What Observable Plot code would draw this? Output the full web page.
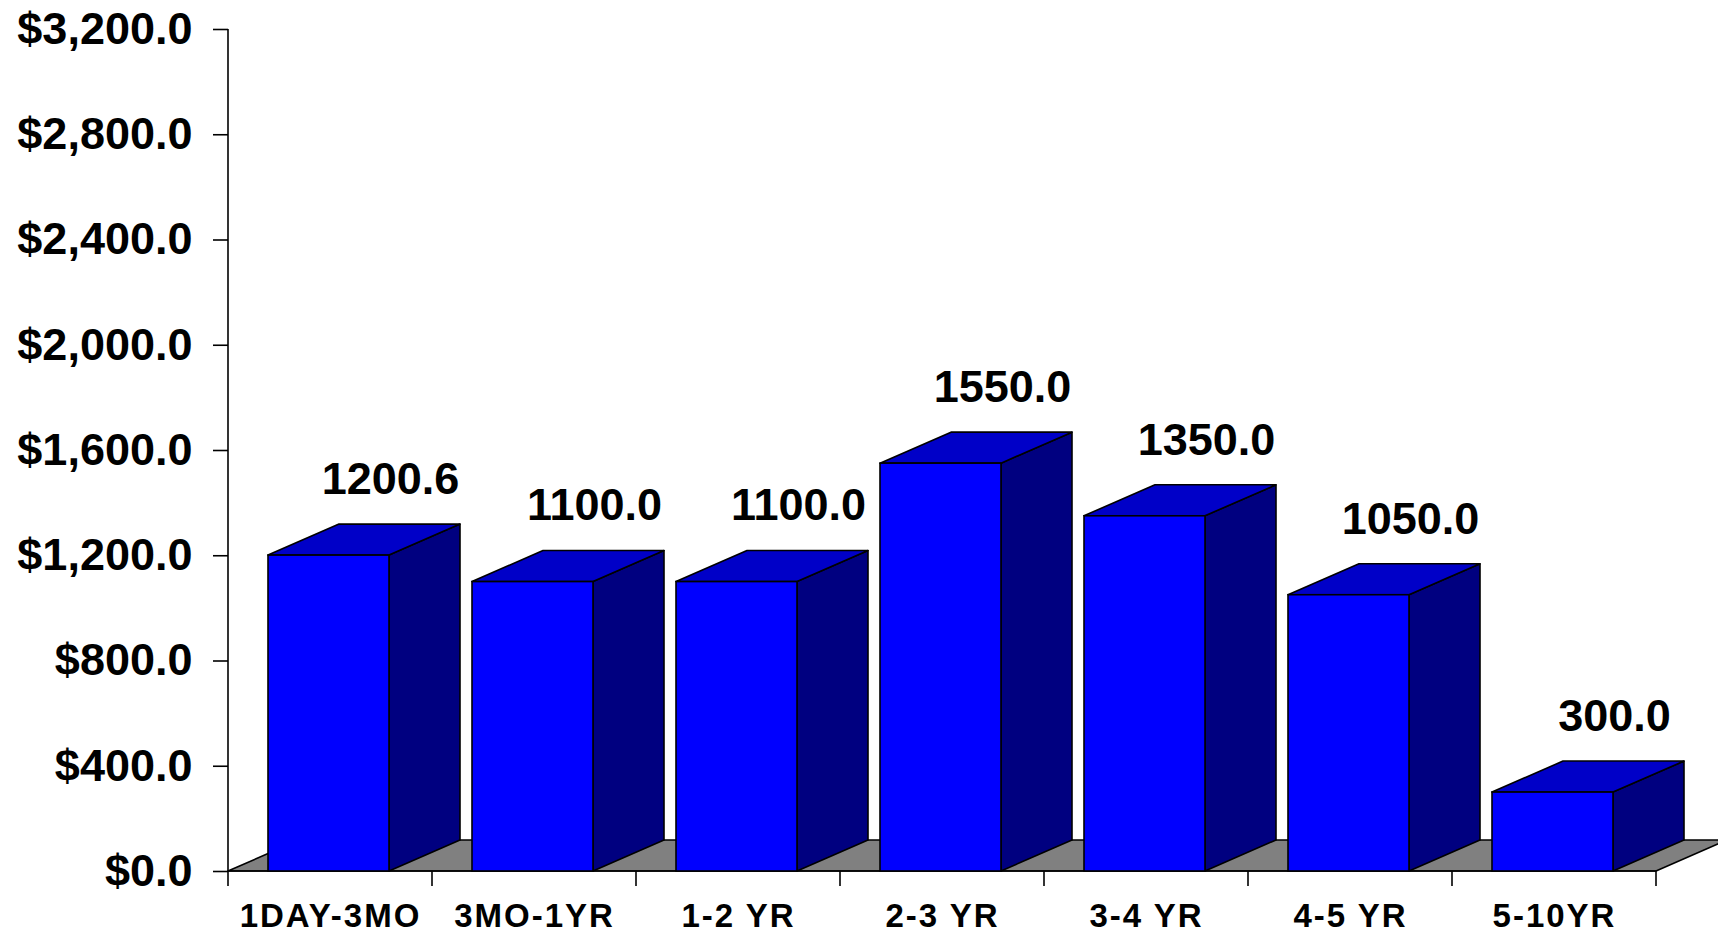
<!DOCTYPE html>
<html><head><meta charset="utf-8">
<script src="https://cdn.jsdelivr.net/npm/d3@7"></script>
<script src="https://cdn.jsdelivr.net/npm/@observablehq/plot@0.6"></script>
<style>
html,body{margin:0;padding:0;background:#fff;overflow:hidden}
svg{display:block}
g[aria-label="x-axis tick label"] text{letter-spacing:2px}
</style></head><body><div id="chart"></div>
<script>
const categories = ["1DAY-3MO","3MO-1YR","1-2 YR","2-3 YR","3-4 YR","4-5 YR","5-10YR"];
const values = [1200.6, 1100.0, 1100.0, 1550.0, 1350.0, 1050.0, 300.0];
const yTicks = [0, 400, 800, 1200, 1600, 2000, 2400, 2800, 3200];
const data = categories.map((c, i) => ({category: c, value: values[i]}));

const DX = 71, DY = -31;           // 3D depth offset (px)
const INSET_L = 40, INSET_R = 43;  // bar inset within band (px)
const FRONT = "#0000FF", TOP = "#0000C8", SIDE = "#000080", FLOOR = "#808080";
const SW = 1.6;

const NS = "http://www.w3.org/2000/svg";
function el(tag, attrs) {
  const e = document.createElementNS(NS, tag);
  for (const k in attrs) e.setAttribute(k, attrs[k]);
  return e;
}
function poly(pts, fill) {
  return el("polygon", {points: pts.map(p => p.join(",")).join(" "), fill, stroke: "black", "stroke-width": SW, "stroke-linejoin": "round"});
}
function bw(x) { return typeof x.bandwidth === "function" ? x.bandwidth() : x.bandwidth; }

// floor, axis lines and band-edge ticks
function renderFloor(index, scales, vals, dims) {
  const g = el("g", {});
  const left = dims.marginLeft, right = dims.width - dims.marginRight;
  const y0 = scales.y(0), yTop = scales.y(d3.max(yTicks));
  g.appendChild(poly([[left, y0], [right, y0], [right + DX, y0 + DY], [left + DX, y0 + DY]], FLOOR));
  g.appendChild(el("line", {x1: left, x2: left, y1: y0, y2: yTop, stroke: "black", "stroke-width": SW}));
  g.appendChild(el("line", {x1: left, x2: right, y1: y0, y2: y0, stroke: "black", "stroke-width": SW}));
  const edges = categories.map(c => scales.x(c)).concat([scales.x(categories[categories.length - 1]) + bw(scales.x)]);
  for (const e of edges) g.appendChild(el("line", {x1: e, x2: e, y1: y0, y2: y0 + 15, stroke: "black", "stroke-width": SW}));
  return g;
}

// side and top faces of the 3D bars
function renderFaces(index, scales) {
  const g = el("g", {});
  const b = bw(scales.x);
  const y0 = scales.y(0);
  for (const i of index) {
    const d = data[i];
    const xs = scales.x(d.category) + INSET_L;
    const xe = scales.x(d.category) + b - INSET_R;
    const yt = scales.y(d.value);
    g.appendChild(poly([[xe, y0], [xe + DX, y0 + DY], [xe + DX, yt + DY], [xe, yt]], SIDE));
    g.appendChild(poly([[xs, yt], [xe, yt], [xe + DX, yt + DY], [xs + DX, yt + DY]], TOP));
  }
  return g;
}

const chart = Plot.plot({
  width: 1718,
  height: 933,
  marginLeft: 228,
  marginRight: 62,
  marginTop: 29,
  marginBottom: 62,
  style: {fontFamily: "'Liberation Sans', Arial, Helvetica, sans-serif", color: "black", background: "white"},
  x: {type: "band", domain: categories, padding: 0, label: null},
  y: {domain: [0, 3200], label: null},
  marks: [
    Plot.ruleY([0], {render: renderFloor}),
    Plot.barY(data, {x: "category", y: "value", render: renderFaces}),
    Plot.barY(data, {x: "category", y: "value", fill: FRONT, stroke: "black", strokeWidth: SW, insetLeft: INSET_L, insetRight: INSET_R}),
    Plot.text(data, {x: "category", y: "value", text: d => d.value.toFixed(1), dx: 60, dy: -76, fontSize: 45, fontWeight: "bold", fill: "black"}),
    Plot.axisY({ticks: yTicks, tickSize: 15, tickPadding: 21, strokeWidth: SW, tickFormat: d => "$" + d3.format(",.1f")(d), fontSize: 45, fontWeight: "bold", label: null}),
    Plot.axisX({tickSize: 0, tickPadding: 32, fontSize: 33, fontWeight: "bold", label: null})
  ]
});
document.getElementById("chart").appendChild(chart);
</script></body></html>
